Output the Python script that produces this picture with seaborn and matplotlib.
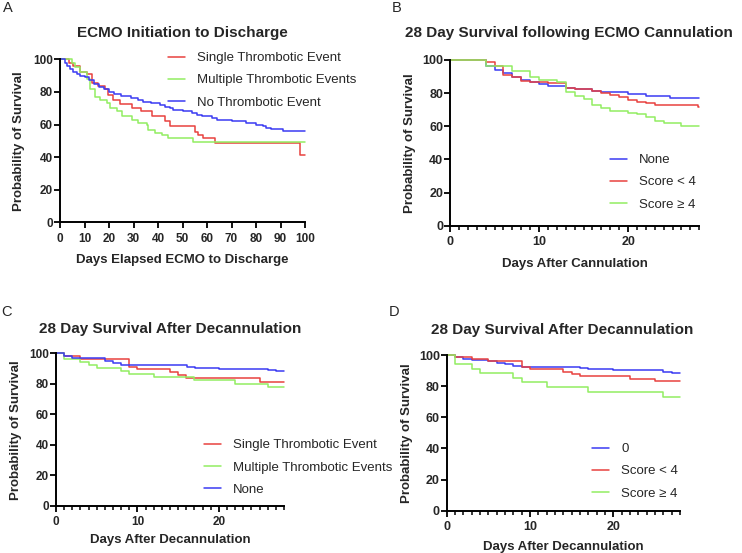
import numpy as np
import pandas as pd
import matplotlib
matplotlib.use("Agg")
import matplotlib.pyplot as plt
import seaborn as sns
from matplotlib.ticker import MultipleLocator
from matplotlib.lines import Line2D

# ---------------- data ----------------
# Panel A: ECMO initiation to discharge (days 0-100)
A_single_t = [0, 3.5, 5.5, 8.2, 11, 12.9, 15.6, 18.4, 19.5, 21.8, 24.4, 29.3, 33, 37.4, 42.9, 44.9, 55.1, 56.5, 58.5, 63.3, 98, 100]
A_single_s = [100, 98, 96, 92.4, 91, 85.3, 83.6, 81.8, 78, 75, 72.8, 70, 68.3, 65.3, 62, 58.8, 55.6, 53.6, 51.5, 48.5, 41.3, 41.3]
A_multi_t = [0, 4.8, 6, 8, 11, 12.2, 14.3, 16.5, 19, 20.4, 23.1, 25.2, 29.3, 32, 35.4, 36, 38.8, 41.5, 44.2, 54.4, 100]
A_multi_s = [100, 98, 95, 92, 88, 82, 77, 75, 73, 70, 68, 65, 63, 61, 59.7, 56.6, 54.6, 53.6, 51.5, 49.4, 49.4]
A_none_t = [0, 2, 3, 4, 5.5, 7, 8, 10, 12, 14, 16, 18, 20, 22, 25, 29, 32, 34, 37, 41, 43, 45, 46, 50, 54, 56, 58, 62, 64, 70, 76, 80, 83, 84, 86, 91, 100]
A_none_s = [100, 98, 96, 94, 92, 91, 90, 89, 87, 85, 83, 82, 80, 79, 77.5, 76, 75, 74, 73, 72, 71, 70, 69, 68, 67, 66, 65, 64, 63, 62, 61, 60, 59, 58, 57, 56, 56]
A_labels = ["Single Thrombotic Event", "Multiple Thrombotic Events", "No Thrombotic Event"]

# Panel B: 28 day survival following ECMO cannulation
B_none_t = [0, 4, 5, 6, 7, 8, 9, 10, 11, 13, 14, 16, 17, 20, 22, 24.7, 28]
B_none_s = [100, 96.4, 94, 92, 89.5, 87.9, 86.9, 85.5, 84.3, 82.9, 82.4, 81.5, 80.5, 79.3, 78.3, 77.3, 77.3]
B_low_t = [0, 4, 5, 6, 7, 8, 9, 10, 11, 13, 14, 16, 17, 18, 19, 20, 21, 22, 23, 27.9, 28]
B_low_s = [100, 99, 96.4, 91, 89.5, 87.5, 87, 86.5, 86, 83.3, 82.3, 81.5, 80, 78.9, 77.9, 75.9, 74.8, 73.8, 72.8, 71.8, 71.8]
B_high_t = [0, 4, 7, 9, 10, 12, 13, 14, 15, 16, 17, 18, 20, 21, 22, 23, 24, 26, 28]
B_high_s = [100, 96.6, 93.2, 89.8, 87.8, 86.5, 80.5, 78.5, 76.5, 72.8, 71.2, 69.4, 68, 67.2, 65.4, 63.4, 61.8, 60.2, 60.2]
B_labels = ["None", "Score < 4", "Score \u2265 4"]

# Panel C: 28 day survival after decannulation (thrombotic events)
C_single_t = [0, 1, 2, 3, 9, 10, 14, 15, 16, 25.1, 28]
C_single_s = [100, 98.5, 98, 96.5, 91, 89.5, 87.5, 85.8, 84, 81.4, 81.4]
C_multi_t = [0, 1, 3, 4, 5, 8, 9, 12, 17, 22, 26, 28]
C_multi_s = [100, 96.3, 94.3, 92.2, 90.2, 88.2, 86.2, 84.3, 82.3, 80.1, 78.2, 78.2]
C_none_t = [0, 1, 2, 6, 7, 8, 9, 16.1, 17.1, 20, 26, 27, 28]
C_none_s = [100, 98, 96.9, 95.2, 93.9, 92.6, 92.3, 91.2, 90.2, 89.7, 89, 88.4, 88.4]
C_labels = ["Single Thrombotic Event", "Multiple Thrombotic Events", "None"]

# Panel D: 28 day survival after decannulation (score)
D_zero_t = [0, 1, 2, 3, 5, 6, 7, 8, 9, 10, 16, 17, 20, 26, 27, 28]
D_zero_s = [100, 98.5, 97.5, 96.8, 96, 95, 94.2, 93.1, 92.6, 92.3, 91.4, 90.8, 90.4, 89.3, 88.6, 88.6]
D_low_t = [0, 1, 2, 3, 5, 9, 10, 14, 15, 16, 22, 25, 28]
D_low_s = [100, 99, 98.5, 97.2, 96, 92.1, 90.8, 88.9, 87.6, 86.3, 84.6, 83.3, 83.3]
D_high_t = [0, 1, 3, 4, 8, 9, 12, 17, 26, 28]
D_high_s = [100, 94.2, 91.2, 88.2, 85.4, 82.4, 79.6, 76.4, 73.2, 73.2]
D_labels = ["0", "Score < 4", "Score \u2265 4"]

RED = "#e8413f"
GREEN = "#92ee62"
BLUE = "#3b3bf2"

# ---------------- style ----------------
sns.set_theme(style="ticks")
plt.rcParams["font.family"] = ["Liberation Sans", "DejaVu Sans"]

W, H = 742, 553
fig = plt.figure(figsize=(W / 100, H / 100), dpi=100)


def fx(px):
    return px / W


def fy(py):
    return 1 - py / H


def make_df(series):
    rows = []
    for lab, t, s in series:
        for ti, si in zip(t, s):
            rows.append((lab, ti, si))
    return pd.DataFrame(rows, columns=["group", "day", "surv"])


def panel(box, series, colors, xmax, title, title_xy, letter, letter_xy,
          xlabel, xmajor, xminor, tick_fs, leg_xy, ylpad, xlpad):
    x0, y0, x1, y1 = box
    ax = fig.add_axes([fx(x0), fy(y1), fx(x1) - fx(x0), fy(y0) - fy(y1)])
    df = make_df(series)
    order = [s[0] for s in series]
    sns.lineplot(data=df, x="day", y="surv", hue="group", hue_order=order,
                 palette=dict(zip(order, colors)), estimator=None, sort=False,
                 drawstyle="steps-post", linewidth=1.1, legend=False, ax=ax)
    for ln in ax.lines:
        ln.set_clip_on(False)
    ax.set_xlim(0, xmax)
    ax.set_ylim(0, 100)
    ax.xaxis.set_major_locator(MultipleLocator(xmajor))
    if xminor:
        ax.xaxis.set_minor_locator(MultipleLocator(xminor))
    ax.yaxis.set_major_locator(MultipleLocator(20))
    sns.despine(ax=ax)
    for sp in ("left", "bottom"):
        ax.spines[sp].set_linewidth(1.4)
        ax.spines[sp].set_color("black")
    ax.tick_params(axis="both", which="major", direction="out", length=4, width=1.3,
                   color="black", labelsize=tick_fs)
    ax.tick_params(axis="y", which="major", pad=1)
    ax.tick_params(axis="x", which="major", pad=3.5)
    ax.tick_params(axis="x", which="minor", direction="out", length=2.8, width=1.1, color="black")
    for lab in ax.get_xticklabels() + ax.get_yticklabels():
        lab.set_fontweight("bold")
    ax.set_xlabel(xlabel, fontsize=9.5, fontweight="bold", labelpad=xlpad)
    ax.set_ylabel("Probability of Survival", fontsize=9.5, fontweight="bold", labelpad=ylpad)
    fig.text(fx(title_xy[0]), fy(title_xy[1]), title, ha="center", va="center",
             fontsize=11, fontweight="bold")
    fig.text(fx(letter_xy[0]), fy(letter_xy[1]), letter, ha="center", va="center", fontsize=10.5)
    handles = [Line2D([], [], color=c, lw=1.1) for c in colors]
    ax.legend(handles, order, loc="upper left", bbox_to_anchor=(fx(leg_xy[0]), fy(leg_xy[1])),
              bbox_transform=fig.transFigure, frameon=False, fontsize=9.5, borderpad=0,
              borderaxespad=0, handlelength=1.3, handletextpad=0.9, labelspacing=0.76)
    return ax


panel((60, 59.3, 305, 222.3),
      [(A_labels[0], A_single_t, A_single_s), (A_labels[1], A_multi_t, A_multi_s),
       (A_labels[2], A_none_t, A_none_s)],
      [RED, GREEN, BLUE], 100, "ECMO Initiation to Discharge", (182, 33), "A", (8, 8),
      "Days Elapsed ECMO to Discharge", 10, None, 8.5, (168, 52), 6, 7)

panel((450, 60, 699.3, 225.7),
      [(B_labels[0], B_none_t, B_none_s), (B_labels[1], B_low_t, B_low_s),
       (B_labels[2], B_high_t, B_high_s)],
      [BLUE, RED, GREEN], 28, "28 Day Survival following ECMO Cannulation", (569, 33), "B", (397, 8),
      "Days After Cannulation", 10, 1, 9, (610, 154), 4.5, 7)

panel((56, 353.3, 284, 506),
      [(C_labels[0], C_single_t, C_single_s), (C_labels[1], C_multi_t, C_multi_s),
       (C_labels[2], C_none_t, C_none_s)],
      [RED, GREEN, BLUE], 28, "28 Day Survival After Decannulation", (170, 329), "C", (7, 312),
      "Days After Decannulation", 10, 1, 8.5, (204, 439), 5, 4)

panel((446.7, 355, 680, 510.7),
      [(D_labels[0], D_zero_t, D_zero_s), (D_labels[1], D_low_t, D_low_s),
       (D_labels[2], D_high_t, D_high_s)],
      [BLUE, RED, GREEN], 28, "28 Day Survival After Decannulation", (562, 330), "D", (394, 312),
      "Days After Decannulation", 10, 1, 9, (592, 443), 4.5, 6)

fig.savefig("out.png", dpi=100)
